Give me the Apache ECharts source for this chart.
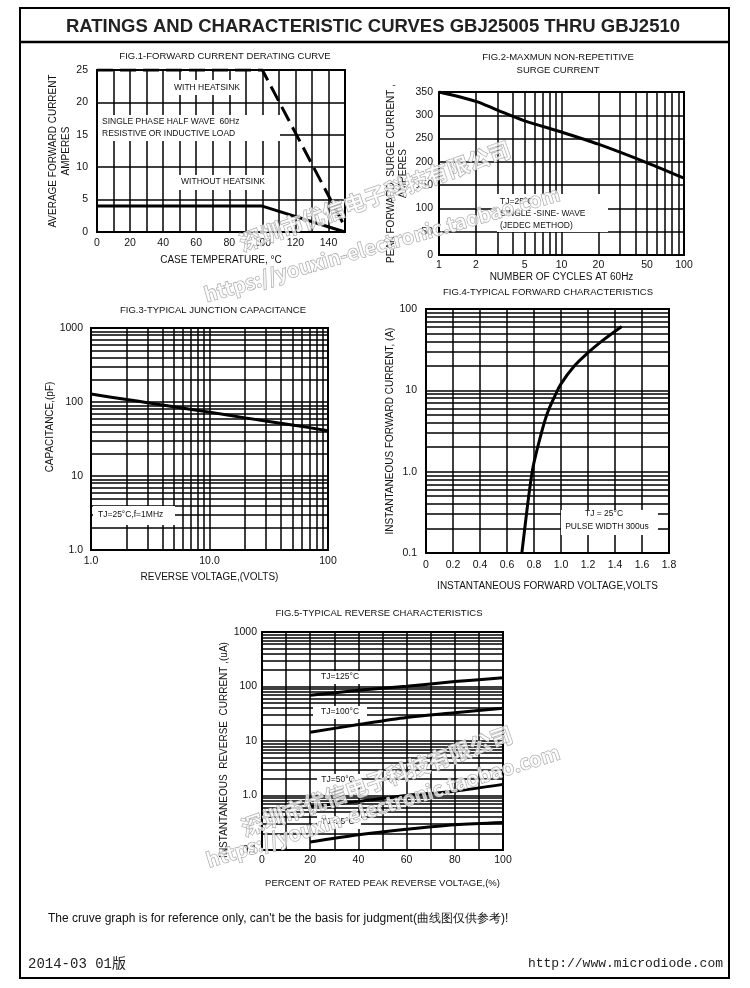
<!DOCTYPE html>
<html>
<head>
<meta charset="utf-8">
<title>GBJ25005 THRU GBJ2510 curves</title>
<script src="https://cdn.jsdelivr.net/npm/echarts@6/dist/echarts.min.js"></script>
<style>
  html, body { margin: 0; padding: 0; background: #fff; }
  #sheet { width: 750px; height: 988px; }
</style>
</head>
<body>
<div id="sheet"></div>
<script>
// FIG.1 forward current derating
const fig1HeatsinkTemp = [0, 100, 148.5];
const fig1HeatsinkAmps = [25, 25, 1.5];
const fig1BareTemp = [0, 100, 150];
const fig1BareAmps = [4, 4, 0];
const fig1TempLabels = [0, 20, 40, 60, 80, 100, 120, 140];

// FIG.2 surge current
const fig2Cycles = [1, 2, 3, 5, 10, 20, 50, 100];
const fig2Amps = [350, 330, 311, 288, 264, 238, 198, 165];
const fig2CycleLabels = [1, 2, 5, 10, 20, 50, 100];

// FIG.3 junction capacitance
const fig3Volts = [1, 2, 3, 5, 10, 20, 50, 100];
const fig3Pf = [128, 108, 98, 86, 73, 61, 49, 41];

// FIG.4 forward characteristics
const fig4Volts = [0.71, 0.75, 0.78, 0.8, 0.85, 0.9, 0.95, 1.0, 1.1, 1.2, 1.3, 1.45];
const fig4Amps = [0.1, 0.36, 0.85, 1.3, 2.8, 5.3, 8.2, 12, 20, 29, 40, 61];

// FIG.5 reverse characteristics
const fig5Pct = [20, 40, 60, 80, 100];
const fig5Tj125 = [69, 85, 101, 123, 144];
const fig5Tj100 = [14.5, 20, 27, 33, 40];
const fig5Tj50 = [0.63, 0.78, 1.0, 1.2, 1.6];
const fig5Tj25 = [0.14, 0.19, 0.24, 0.29, 0.32];

const FONT = 'Liberation Sans, Arial, sans-serif';
const INK = '#111';

// 2..9 lines inside every decade
function logMinor(from, to) {
  const out = [];
  for (let d = from; d < to * 0.999; d *= 10) {
    for (let k = 2; k <= 9; k++) out.push(+(k * d).toPrecision(3));
  }
  return out;
}

function zip(xs, ys) {
  return xs.map((x, i) => [x, ys[i]]);
}

function gridLines(xs, ys) {
  return {
    silent: true,
    symbol: ['none', 'none'],
    animation: false,
    label: { show: false },
    emphasis: { disabled: true },
    lineStyle: { color: '#000', width: 1.5, type: 'solid', opacity: 1 },
    data: xs.map(v => ({ xAxis: v })).concat(ys.map(v => ({ yAxis: v })))
  };
}

function logLabel(v) {
  return v >= 10 ? String(Math.round(v)) : (+v).toFixed(1);
}

function axis(gridIndex, o) {
  return Object.assign({
    gridIndex: gridIndex,
    nameLocation: 'middle',
    nameTextStyle: { color: INK, fontSize: 10, fontFamily: FONT },
    axisLine: { show: true, onZero: false, lineStyle: { color: '#000', width: 2 } },
    axisTick: { show: false },
    splitLine: { show: true, lineStyle: { color: '#000', width: 1.5 } },
    axisLabel: { color: INK, fontSize: 10.5, fontFamily: FONT }
  }, o);
}

function curve(xi, data, extra) {
  return Object.assign({
    type: 'line',
    xAxisIndex: xi,
    yAxisIndex: xi,
    data: data,
    symbol: 'none',
    showSymbol: false,
    silent: true,
    lineStyle: { color: '#000', width: 3 },
    z: 6
  }, extra);
}

function txt(text, x, y, size, align, extra) {
  return Object.assign({
    type: 'text',
    z: 20,
    style: {
      text: text, x: x, y: y,
      fill: INK,
      font: size + 'px ' + FONT,
      align: align || 'center', verticalAlign: 'middle',
      textAlign: align || 'center', textVerticalAlign: 'middle'
    }
  }, extra);
}

function box(x, y, w, h) {
  return { type: 'rect', z: 15, shape: { x: x, y: y, width: w, height: h }, style: { fill: '#fff' } };
}

function watermark(text, x, y, size, rot) {
  return {
    type: 'text', z: 40, x: x, y: y, rotation: rot,
    style: {
      text: text, x: 0, y: 0,
      font: 'bold ' + size + 'px "Noto Sans CJK SC", ' + FONT,
      fill: 'rgba(255,255,255,0.7)', stroke: '#a0a0a0', lineWidth: 1,
      align: 'center', verticalAlign: 'middle',
      textAlign: 'center', textVerticalAlign: 'middle'
    }
  };
}

const chart = echarts.init(document.getElementById('sheet'), null, { renderer: 'canvas' });

chart.setOption({
  animation: false,
  backgroundColor: '#fff',
  grid: [
    { left: 97, top: 70, width: 248, height: 162 },
    { left: 439, top: 92, width: 245, height: 163 },
    { left: 91, top: 328, width: 237, height: 222 },
    { left: 426, top: 309, width: 243, height: 244 },
    { left: 262, top: 632, width: 241, height: 218 }
  ].map(g => Object.assign(g, { show: true, borderColor: '#000', borderWidth: 2, containLabel: false })),
  xAxis: [
    axis(0, {
      type: 'value', min: 0, max: 150, interval: 10,
      name: 'CASE TEMPERATURE, °C', nameGap: 23,
      axisLabel: { color: INK, fontSize: 10.5, fontFamily: FONT, margin: 6,
        customValues: fig1TempLabels,
        formatter: v => (v % 20 === 0 && v < 150 ? String(v) : '') }
    }),
    axis(1, {
      type: 'log', logBase: 10, min: 1, max: 100,
      name: 'NUMBER OF CYCLES AT 60Hz', nameGap: 16,
      axisLabel: { color: INK, fontSize: 10.5, fontFamily: FONT, margin: 5,
        customValues: fig2CycleLabels, formatter: v => String(Math.round(v)) }
    }),
    axis(2, {
      type: 'log', logBase: 10, min: 1, max: 100,
      name: 'REVERSE VOLTAGE,(VOLTS)', nameGap: 22,
      axisLabel: { color: INK, fontSize: 10.5, fontFamily: FONT, margin: 6,
        formatter: v => (v >= 100 ? '100' : (+v).toFixed(1)) }
    }),
    axis(3, {
      type: 'value', min: 0, max: 1.8, interval: 0.2,
      name: 'INSTANTANEOUS FORWARD VOLTAGE,VOLTS', nameGap: 28,
      axisLabel: { color: INK, fontSize: 10.5, fontFamily: FONT, margin: 7,
        formatter: v => (Math.abs(v) < 1e-9 ? '0' : (+v).toFixed(1)) }
    }),
    axis(4, {
      type: 'value', min: 0, max: 100, interval: 10,
      name: 'PERCENT OF RATED PEAK REVERSE VOLTAGE,(%)', nameGap: 28,
      nameTextStyle: { color: INK, fontSize: 9.5, fontFamily: FONT },
      axisLabel: { color: INK, fontSize: 10.5, fontFamily: FONT, margin: 5,
        formatter: v => (Math.round(v) % 20 === 0 ? String(Math.round(v)) : '') }
    })
  ],
  yAxis: [
    axis(0, {
      type: 'value', min: 0, max: 25, interval: 5,
      name: 'AVERAGE FORWARD CURRENT\nAMPERES', nameGap: 22,
      nameTextStyle: { color: INK, fontSize: 10, fontFamily: FONT, lineHeight: 13 },
      axisLabel: { color: INK, fontSize: 10.5, fontFamily: FONT, margin: 9 }
    }),
    axis(1, {
      type: 'value', min: 0, max: 350, interval: 50,
      name: 'PEAK FORWARD  SURGE CURRENT ,\nAMPERES', nameGap: 30,
      nameTextStyle: { color: INK, fontSize: 10, fontFamily: FONT, lineHeight: 12 },
      axisLabel: { color: INK, fontSize: 10.5, fontFamily: FONT, margin: 6 }
    }),
    axis(2, {
      type: 'log', logBase: 10, min: 1, max: 1000,
      name: 'CAPACITANCE,(pF)', nameGap: 28,
      nameTextStyle: { color: INK, fontSize: 10, fontFamily: FONT, padding: [0, 0, 0, 24] },
      axisLabel: { color: INK, fontSize: 10.5, fontFamily: FONT, margin: 8, formatter: logLabel }
    }),
    axis(3, {
      type: 'log', logBase: 10, min: 0.1, max: 100,
      name: 'INSTANTANEOUS FORWARD CURRENT, (A)', nameGap: 27,
      axisLabel: { color: INK, fontSize: 10.5, fontFamily: FONT, margin: 9, formatter: logLabel }
    }),
    axis(4, {
      type: 'log', logBase: 10, min: 0.1, max: 1000,
      name: 'INSTANTANEOUS  REVERSE  CURRENT ,(uA)', nameGap: 33,
      nameTextStyle: { color: INK, fontSize: 10, fontFamily: FONT, padding: [0, 18, 0, 0] },
      axisLabel: { color: INK, fontSize: 10.5, fontFamily: FONT, margin: 5, formatter: logLabel }
    })
  ],
  series: [
    curve(0, zip(fig1HeatsinkTemp, fig1HeatsinkAmps), {
      lineStyle: { color: '#000', width: 3, type: [16, 7] }
    }),
    curve(0, zip(fig1BareTemp, fig1BareAmps)),
    curve(1, zip(fig2Cycles, fig2Amps), {
      smooth: 0.3,
      markLine: gridLines(logMinor(1, 100), [])
    }),
    curve(2, zip(fig3Volts, fig3Pf), {
      smooth: 0.3,
      markLine: gridLines(logMinor(1, 100), logMinor(1, 1000))
    }),
    curve(3, zip(fig4Volts, fig4Amps), {
      smooth: 0.4,
      markLine: gridLines([], logMinor(0.1, 100))
    }),
    curve(4, zip(fig5Pct, fig5Tj125), {
      smooth: 0.3,
      markLine: gridLines([], logMinor(0.1, 1000))
    }),
    curve(4, zip(fig5Pct, fig5Tj100), { smooth: 0.3 }),
    curve(4, zip(fig5Pct, fig5Tj50), { smooth: 0.3 }),
    curve(4, zip(fig5Pct, fig5Tj25), { smooth: 0.3 })
  ],
  graphic: [
    // page frame and header
    { type: 'rect', z: 30, shape: { x: 20, y: 8, width: 709, height: 970 },
      style: { fill: 'none', stroke: '#000', lineWidth: 2 } },
    { type: 'line', z: 30, shape: { x1: 20, y1: 42, x2: 729, y2: 42 },
      style: { stroke: '#000', lineWidth: 2.5 } },
    { type: 'text', z: 20, style: { text: 'RATINGS AND CHARACTERISTIC CURVES GBJ25005 THRU GBJ2510',
      x: 373, y: 27, fill: '#222', font: 'bold 18.5px ' + FONT,
      align: 'center', verticalAlign: 'middle', textAlign: 'center', textVerticalAlign: 'middle' } },

    // figure titles
    txt('FIG.1-FORWARD CURRENT DERATING CURVE', 225, 56, 9.5),
    txt('FIG.2-MAXMUN NON-REPETITIVE', 558, 57, 9.5),
    txt('SURGE CURRENT', 558, 70, 9.5),
    txt('FIG.3-TYPICAL JUNCTION CAPACITANCE', 213, 310, 9.5),
    txt('FIG.4-TYPICAL FORWARD CHARACTERISTICS', 548, 292, 9.5),
    txt('FIG.5-TYPICAL REVERSE CHARACTERISTICS', 379, 613, 9.5),

    // FIG.1 notes
    box(171, 80, 73, 15),
    txt('WITH HEATSINK', 207, 88, 8.5),
    box(98, 115, 182, 26),
    txt('SINGLE PHASE HALF WAVE  60Hz', 102, 122, 8.5, 'left'),
    txt('RESISTIVE OR INDUCTIVE LOAD', 102, 134, 8.5, 'left'),
    box(177, 175, 92, 15),
    txt('WITHOUT HEATSINK', 223, 182, 8.5),

    // FIG.2 notes
    box(497, 194, 111, 38),
    txt('TJ=25°C', 500, 202, 8.5, 'left'),
    txt('SINGLE -SINE- WAVE', 500, 214, 8.5, 'left'),
    txt('(JEDEC METHOD)', 500, 226, 8.5, 'left'),

    // FIG.3 note
    box(93, 506, 82, 19),
    txt('TJ=25°C,f=1MHz', 98, 515, 8.5, 'left'),

    // FIG.4 note
    box(561, 510, 97, 25),
    txt('TJ = 25°C', 604, 514, 8.5),
    txt('PULSE WIDTH 300us', 607, 527, 8.5),

    // FIG.5 curve labels
    box(313, 671, 54, 13),
    txt('TJ=125°C', 340, 677, 8.5),
    box(313, 706, 54, 13),
    txt('TJ=100°C', 340, 712, 8.5),
    box(317, 774, 44, 13),
    txt('TJ=50°C', 338, 780, 8.5),
    box(317, 816, 44, 13),
    txt('TJ=25°C', 338, 822, 8.5),

    // footer
    txt('The cruve graph is for reference only, can\'t be the basis for judgment(曲线图仅供参考)!', 48, 919, 12, 'left'),
    { type: 'text', z: 20, style: { text: '2014-03 01版', x: 28, y: 964, fill: '#222',
      font: '14px "Liberation Mono", "Noto Sans CJK SC", monospace',
      align: 'left', verticalAlign: 'middle', textAlign: 'left', textVerticalAlign: 'middle' } },
    { type: 'text', z: 20, style: { text: 'http://www.microdiode.com', x: 723, y: 964, fill: '#222',
      font: '13px "Liberation Mono", monospace',
      align: 'right', verticalAlign: 'middle', textAlign: 'right', textVerticalAlign: 'middle' } },

    // shop watermarks
    watermark('深圳市优信电子科技有限公司', 375, 196, 22, 0.34),
    watermark('https://youxin-electronic.taobao.com', 382, 244, 20, 0.28),
    watermark('深圳市优信电子科技有限公司', 377, 781, 22, 0.34),
    watermark('https://youxin-electronic.taobao.com', 383, 806, 20, 0.3)
  ]
});
</script>
</body>
</html>
